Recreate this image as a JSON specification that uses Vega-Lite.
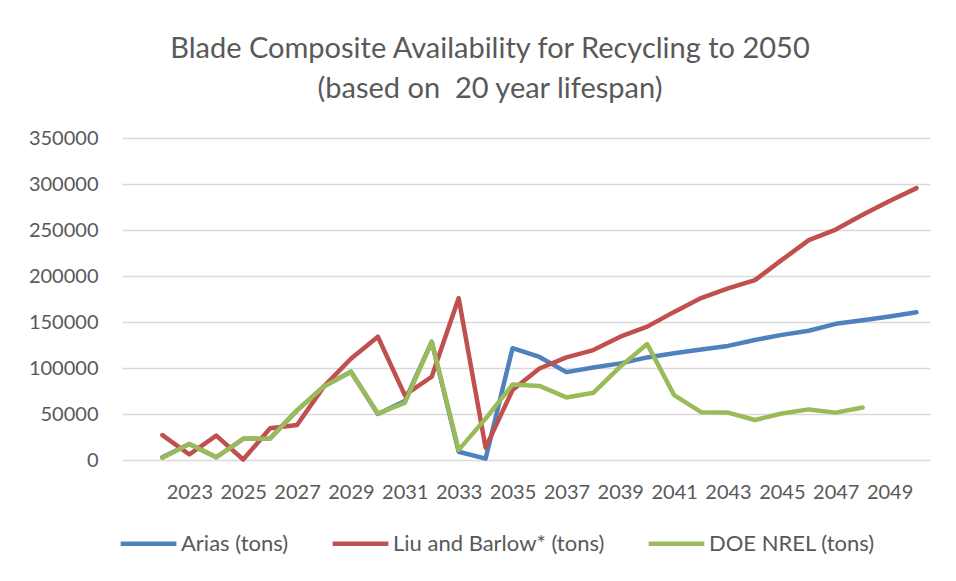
{
  "$schema": "https://vega.github.io/schema/vega-lite/v6.json",
  "autosize": {"type": "none"},
  "width": 808,
  "height": 322,
  "padding": {"left": 122, "top": 138, "right": 26, "bottom": 121},
  "background": "white",
  "title": {
    "text": ["Blade Composite Availability for Recycling to 2050", "(based on\u00a0 20 year lifespan)"],
    "font": "Lato",
    "fontSize": 29,
    "fontWeight": "normal",
    "color": "#595959",
    "anchor": "middle",
    "frame": "group",
    "dx": -36,
    "lineHeight": 40,
    "offset": 24
  },
  "data": {
    "values": [
      {"year": 2022, "series": "Arias (tons)", "value": 3000},
      {"year": 2023, "series": "Arias (tons)", "value": 17500},
      {"year": 2024, "series": "Arias (tons)", "value": 3000},
      {"year": 2025, "series": "Arias (tons)", "value": 23000},
      {"year": 2026, "series": "Arias (tons)", "value": 23500},
      {"year": 2027, "series": "Arias (tons)", "value": 54000},
      {"year": 2028, "series": "Arias (tons)", "value": 80000},
      {"year": 2029, "series": "Arias (tons)", "value": 96000},
      {"year": 2030, "series": "Arias (tons)", "value": 50000},
      {"year": 2031, "series": "Arias (tons)", "value": 64000},
      {"year": 2032, "series": "Arias (tons)", "value": 128500},
      {"year": 2033, "series": "Arias (tons)", "value": 9000},
      {"year": 2034, "series": "Arias (tons)", "value": 1500},
      {"year": 2035, "series": "Arias (tons)", "value": 121500},
      {"year": 2036, "series": "Arias (tons)", "value": 112000},
      {"year": 2037, "series": "Arias (tons)", "value": 95500},
      {"year": 2038, "series": "Arias (tons)", "value": 100500},
      {"year": 2039, "series": "Arias (tons)", "value": 105000},
      {"year": 2040, "series": "Arias (tons)", "value": 111500},
      {"year": 2041, "series": "Arias (tons)", "value": 116000},
      {"year": 2042, "series": "Arias (tons)", "value": 120000},
      {"year": 2043, "series": "Arias (tons)", "value": 124000},
      {"year": 2044, "series": "Arias (tons)", "value": 130500},
      {"year": 2045, "series": "Arias (tons)", "value": 136000},
      {"year": 2046, "series": "Arias (tons)", "value": 140500},
      {"year": 2047, "series": "Arias (tons)", "value": 148000},
      {"year": 2048, "series": "Arias (tons)", "value": 152000},
      {"year": 2049, "series": "Arias (tons)", "value": 156000},
      {"year": 2050, "series": "Arias (tons)", "value": 160500},
      {"year": 2022, "series": "Liu and Barlow* (tons)", "value": 27000},
      {"year": 2023, "series": "Liu and Barlow* (tons)", "value": 6000},
      {"year": 2024, "series": "Liu and Barlow* (tons)", "value": 26500},
      {"year": 2025, "series": "Liu and Barlow* (tons)", "value": 500},
      {"year": 2026, "series": "Liu and Barlow* (tons)", "value": 34500},
      {"year": 2027, "series": "Liu and Barlow* (tons)", "value": 38000},
      {"year": 2028, "series": "Liu and Barlow* (tons)", "value": 80000},
      {"year": 2029, "series": "Liu and Barlow* (tons)", "value": 110000},
      {"year": 2030, "series": "Liu and Barlow* (tons)", "value": 134000},
      {"year": 2031, "series": "Liu and Barlow* (tons)", "value": 70500},
      {"year": 2032, "series": "Liu and Barlow* (tons)", "value": 90500},
      {"year": 2033, "series": "Liu and Barlow* (tons)", "value": 176000},
      {"year": 2034, "series": "Liu and Barlow* (tons)", "value": 13500},
      {"year": 2035, "series": "Liu and Barlow* (tons)", "value": 76000},
      {"year": 2036, "series": "Liu and Barlow* (tons)", "value": 99500},
      {"year": 2037, "series": "Liu and Barlow* (tons)", "value": 111500},
      {"year": 2038, "series": "Liu and Barlow* (tons)", "value": 119500},
      {"year": 2039, "series": "Liu and Barlow* (tons)", "value": 134000},
      {"year": 2040, "series": "Liu and Barlow* (tons)", "value": 145000},
      {"year": 2041, "series": "Liu and Barlow* (tons)", "value": 161000},
      {"year": 2042, "series": "Liu and Barlow* (tons)", "value": 176000},
      {"year": 2043, "series": "Liu and Barlow* (tons)", "value": 186500},
      {"year": 2044, "series": "Liu and Barlow* (tons)", "value": 195500},
      {"year": 2045, "series": "Liu and Barlow* (tons)", "value": 217500},
      {"year": 2046, "series": "Liu and Barlow* (tons)", "value": 239000},
      {"year": 2047, "series": "Liu and Barlow* (tons)", "value": 250500},
      {"year": 2048, "series": "Liu and Barlow* (tons)", "value": 266500},
      {"year": 2049, "series": "Liu and Barlow* (tons)", "value": 281500},
      {"year": 2050, "series": "Liu and Barlow* (tons)", "value": 295500},
      {"year": 2022, "series": "DOE NREL (tons)", "value": 2500},
      {"year": 2023, "series": "DOE NREL (tons)", "value": 17500},
      {"year": 2024, "series": "DOE NREL (tons)", "value": 3000},
      {"year": 2025, "series": "DOE NREL (tons)", "value": 23000},
      {"year": 2026, "series": "DOE NREL (tons)", "value": 23500},
      {"year": 2027, "series": "DOE NREL (tons)", "value": 54000},
      {"year": 2028, "series": "DOE NREL (tons)", "value": 80000},
      {"year": 2029, "series": "DOE NREL (tons)", "value": 96000},
      {"year": 2030, "series": "DOE NREL (tons)", "value": 50500},
      {"year": 2031, "series": "DOE NREL (tons)", "value": 62000},
      {"year": 2032, "series": "DOE NREL (tons)", "value": 128500},
      {"year": 2033, "series": "DOE NREL (tons)", "value": 11000},
      {"year": 2034, "series": "DOE NREL (tons)", "value": 45000},
      {"year": 2035, "series": "DOE NREL (tons)", "value": 82000},
      {"year": 2036, "series": "DOE NREL (tons)", "value": 80500},
      {"year": 2037, "series": "DOE NREL (tons)", "value": 68000},
      {"year": 2038, "series": "DOE NREL (tons)", "value": 73000},
      {"year": 2039, "series": "DOE NREL (tons)", "value": 101500},
      {"year": 2040, "series": "DOE NREL (tons)", "value": 126000},
      {"year": 2041, "series": "DOE NREL (tons)", "value": 70500},
      {"year": 2042, "series": "DOE NREL (tons)", "value": 52000},
      {"year": 2043, "series": "DOE NREL (tons)", "value": 51500},
      {"year": 2044, "series": "DOE NREL (tons)", "value": 43500},
      {"year": 2045, "series": "DOE NREL (tons)", "value": 50500},
      {"year": 2046, "series": "DOE NREL (tons)", "value": 55000},
      {"year": 2047, "series": "DOE NREL (tons)", "value": 51500},
      {"year": 2048, "series": "DOE NREL (tons)", "value": 57000}
    ]
  },
  "mark": {"type": "line", "strokeWidth": 4.5, "strokeJoin": "round", "strokeCap": "round"},
  "encoding": {
    "x": {
      "field": "year",
      "type": "quantitative",
      "scale": {"domain": [2020.5, 2050.5], "nice": false, "zero": false},
      "axis": {
        "title": null,
        "values": [2023, 2025, 2027, 2029, 2031, 2033, 2035, 2037, 2039, 2041, 2043, 2045, 2047, 2049],
        "format": "d",
        "grid": false,
        "ticks": false,
        "domain": false,
        "labelFont": "Lato",
        "labelFontSize": 20,
        "labelColor": "#595959",
        "labelPadding": 22
      }
    },
    "y": {
      "field": "value",
      "type": "quantitative",
      "scale": {"domain": [0, 350000], "nice": false},
      "axis": {
        "title": null,
        "values": [0, 50000, 100000, 150000, 200000, 250000, 300000, 350000],
        "format": "d",
        "grid": true,
        "gridColor": "#d9d9d9",
        "gridWidth": 1.3,
        "ticks": false,
        "domain": false,
        "labelFont": "Lato",
        "labelFontSize": 20,
        "labelColor": "#595959",
        "labelPadding": 24
      }
    },
    "color": {
      "field": "series",
      "type": "nominal",
      "scale": {
        "domain": ["Arias (tons)", "Liu and Barlow* (tons)", "DOE NREL (tons)"],
        "range": ["#4F81BD", "#C0504D", "#9BBB59"]
      },
      "legend": {
        "title": null,
        "orient": "none",
        "direction": "horizontal",
        "legendX": -4,
        "legendY": 375,
        "symbolType": "stroke",
        "symbolSize": 3100,
        "symbolStrokeWidth": 4.5,
        "labelFont": "Lato",
        "labelFontSize": 22,
        "labelColor": "#595959",
        "labelOffset": 2,
        "labelLimit": 400,
        "columnPadding": 34
      }
    }
  },
  "config": {"view": {"stroke": null}}
}
